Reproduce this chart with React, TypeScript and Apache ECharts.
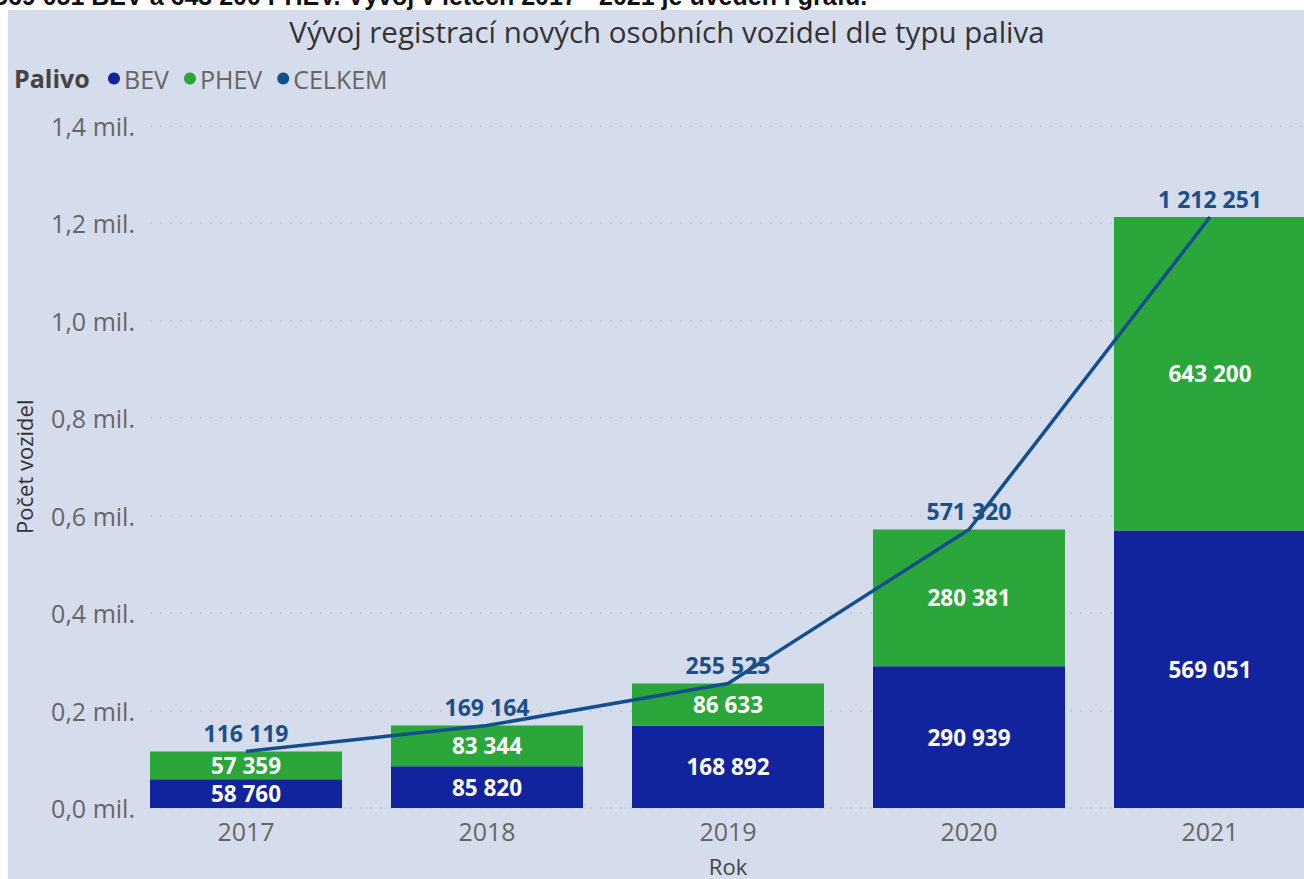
import React, { useEffect, useRef } from "react";
import * as echarts from "echarts";

const years = ["2017", "2018", "2019", "2020", "2021"];
const bev = [58760, 85820, 168892, 290939, 569051];
const phev = [57359, 83344, 86633, 280381, 643200];
const celkem = [116119, 169164, 255525, 571320, 1212251];
const yTicks = [0, 200000, 400000, 600000, 800000, 1000000, 1200000, 1400000];

const TITLE = "Vývoj registrací nových osobních vozidel dle typu paliva";
const TOP_TEXT = "569 051 BEV a 643 200 PHEV. Vývoj v letech 2017 - 2021 je uveden i grafu.";

const FONT = "'Open Sans', 'Noto Sans', sans-serif";
const C_BEV = "#12239E";
const C_PHEV = "#2BA63A";
const C_LINE = "#134F8C";

const fmtNum = (v: number) =>
  String(Math.round(v)).replace(/\B(?=(\d{3})+(?!\d))/g, " ");
const fmtMil = (v: number) => (v / 1e6).toFixed(1).replace(".", ",") + " mil.";

export default function App() {
  const ref = useRef<HTMLDivElement>(null);
  useEffect(() => {
    if (!ref.current) return;
    const chart = echarts.init(ref.current, undefined, { renderer: "svg" });
    const gTop = 115.5;
    const gHeight = 682.5;
    const barLabel = {
      show: true,
      position: "inside",
      color: "#ffffff",
      fontFamily: FONT,
      fontWeight: "bold",
      fontSize: 22.5,
      lineHeight: 22,
      formatter: (p: any) => fmtNum(p.value),
    };
    chart.setOption({
      animation: false,
      backgroundColor: "#D5DCEC",
      textStyle: { fontFamily: FONT },
      title: {
        text: TITLE,
        left: 654,
        top: 1,
        textAlign: "center",
        textStyle: { fontFamily: FONT, fontSize: 29.5, fontWeight: "normal", color: "#333333" },
      },
      graphic: [
        {
          type: "text",
          left: 6,
          top: 55,
          style: { text: "Palivo", font: `bold 25px ${FONT}`, fill: "#444444" },
        },
      ],
      legend: {
        left: 95,
        top: 51,
        icon: "circle",
        itemWidth: 12,
        itemHeight: 12,
        itemGap: 15,
        textStyle: { fontFamily: FONT, fontSize: 25, color: "#666666", padding: [0, 0, 0, -1] },
        data: ["BEV", "PHEV", "CELKEM"],
      },
      grid: [
        { left: 117.5, top: gTop, right: 0.5, height: gHeight, outerBoundsMode: "none", containLabel: false },
        { left: 142, top: gTop, right: 27, height: gHeight, outerBoundsMode: "none", containLabel: false },
      ],
      xAxis: [
        {
          type: "category",
          gridIndex: 0,
          data: years,
          axisLine: { show: false },
          axisTick: { show: false },
          axisLabel: { fontFamily: FONT, fontSize: 25, color: "#666666", margin: 10 },
          name: "Rok",
          nameLocation: "middle",
          nameGap: 47,
          nameTextStyle: { fontFamily: FONT, fontSize: 22, color: "#444444", lineHeight: 22 },
        },
        { type: "value", gridIndex: 1, show: false, min: 0, max: 1 },
      ],
      yAxis: [
        { type: "value", gridIndex: 0, min: 0, max: 1400000, interval: 200000, show: false },
        {
          type: "value",
          gridIndex: 1,
          min: 0,
          max: 1400000,
          interval: 200000,
          axisLine: { show: false },
          axisTick: { show: false },
          axisLabel: {
            fontFamily: FONT,
            fontSize: 25,
            color: "#666666",
            margin: 15,
            formatter: (v: number) => (yTicks.includes(v) ? fmtMil(v) : ""),
          },
          splitLine: { show: true, lineStyle: { color: "#BCC2CF", width: 1.5, type: [2, 8] } },
          name: "Počet vozidel",
          nameLocation: "middle",
          nameGap: 114,
          nameTextStyle: { fontFamily: FONT, fontSize: 22, color: "#333333", lineHeight: 24 },
        },
      ],
      series: [
        {
          name: "BEV",
          type: "bar",
          stack: "total",
          xAxisIndex: 0,
          yAxisIndex: 0,
          barWidth: 192,
          data: bev,
          itemStyle: { color: C_BEV },
          label: barLabel,
        },
        {
          name: "PHEV",
          type: "bar",
          stack: "total",
          xAxisIndex: 0,
          yAxisIndex: 0,
          barWidth: 192,
          data: phev,
          itemStyle: { color: C_PHEV },
          label: barLabel,
        },
        {
          name: "CELKEM",
          type: "line",
          xAxisIndex: 0,
          yAxisIndex: 0,
          data: celkem,
          symbol: "circle",
          symbolSize: 0,
          showSymbol: true,
          z: 5,
          lineStyle: { color: C_LINE, width: 3.5 },
          itemStyle: { color: C_LINE },
          label: {
            show: true,
            position: "top",
            distance: 7,
            color: "#1C4F88",
            fontFamily: FONT,
            fontWeight: "bold",
            fontSize: 23,
            formatter: (p: any) => fmtNum(p.value),
          },
        },
      ],
    });
    return () => chart.dispose();
  }, []);

  return (
    <div style={{ position: "fixed", left: 0, top: 0, width: 1304, height: 879, background: "#ffffff", overflow: "hidden" }}>
      <div style={{ position: "absolute", left: 0, top: 0, width: 1304, height: 10, overflow: "hidden" }}>
        <div
          style={{
            position: "absolute",
            left: -6,
            top: -19,
            whiteSpace: "nowrap",
            fontFamily: "'Liberation Sans', sans-serif",
            fontWeight: "bold",
            fontSize: 25,
            lineHeight: "30px",
            color: "#111111",
          }}
        >
          {TOP_TEXT}
        </div>
      </div>
      <div ref={ref} style={{ position: "absolute", left: 8, top: 10, width: 1323, height: 869 }} />
    </div>
  );
}
